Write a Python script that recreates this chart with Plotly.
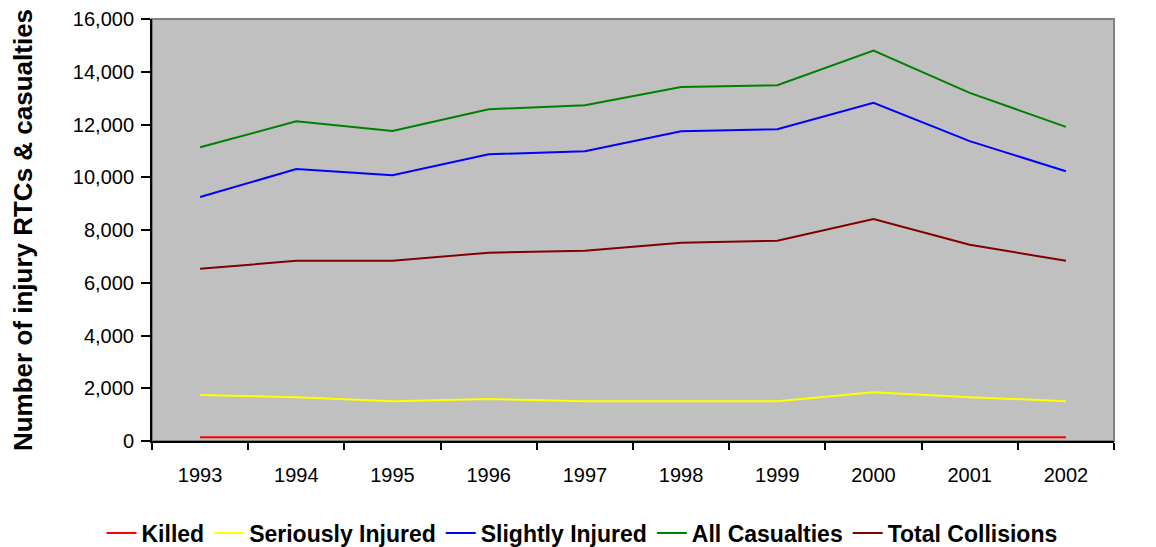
import plotly.graph_objects as go

years = ["1993", "1994", "1995", "1996", "1997", "1998", "1999", "2000", "2001", "2002"]

killed = [140, 140, 140, 140, 140, 140, 140, 140, 140, 140]
seriously_injured = [1740, 1660, 1510, 1590, 1510, 1510, 1510, 1850, 1660, 1510]
slightly_injured = [9250, 10310, 10080, 10870, 10990, 11740, 11820, 12820, 11370, 10230]
all_casualties = [11140, 12120, 11750, 12580, 12730, 13420, 13490, 14800, 13200, 11910]
total_collisions = [6530, 6830, 6830, 7140, 7210, 7520, 7590, 8420, 7440, 6830]

series = [
    ("Killed", killed, "#FF0000"),
    ("Seriously Injured", seriously_injured, "#FFFF00"),
    ("Slightly Injured", slightly_injured, "#0000FF"),
    ("All Casualties", all_casualties, "#008000"),
    ("Total Collisions", total_collisions, "#800000"),
]

fig = go.Figure()
for name, values, color in series:
    fig.add_trace(
        go.Scatter(
            x=years,
            y=values,
            name="<b>" + name + "</b>",
            mode="lines",
            line=dict(color=color, width=2),
        )
    )

# page body has an 8px margin, so the figure is a bit smaller than the window
fig.update_layout(
    width=1148,
    height=539,
    margin=dict(l=144, r=42, t=11, b=106),
    paper_bgcolor="white",
    plot_bgcolor="#C0C0C0",
    font=dict(family="Liberation Sans, Arial", size=19, color="black"),
    showlegend=True,
    legend=dict(
        orientation="h",
        xref="container",
        yref="container",
        x=0.5,
        xanchor="center",
        y=0.026,
        yanchor="middle",
        font=dict(size=23, family="Liberation Sans, Arial"),
        tracegroupgap=0,
        bgcolor="rgba(0,0,0,0)",
    ),
    xaxis=dict(
        type="category",
        range=[-0.5, 9.5],
        tickson="boundaries",
        ticks="outside",
        ticklen=7,
        tickwidth=2,
        tickcolor="black",
        showline=True,
        linecolor="black",
        linewidth=2,
        showgrid=False,
        zeroline=False,
        automargin=False,
        ticklabelstandoff=15,
        tickfont=dict(size=20),
    ),
    yaxis=dict(
        range=[0, 16000],
        dtick=2000,
        tickformat=",d",
        ticks="outside",
        ticklen=9,
        tickwidth=2,
        tickcolor="black",
        showline=True,
        linecolor="black",
        linewidth=2,
        showgrid=False,
        zeroline=False,
        automargin=False,
        ticklabelstandoff=3,
        tickfont=dict(size=20),
        title=dict(
            text="<b>Number of injury RTCs & casualties</b>",
            font=dict(size=26),
            standoff=36,
        ),
    ),
    shapes=[
        dict(
            type="rect",
            xref="paper",
            yref="paper",
            x0=0,
            x1=1,
            y0=0,
            y1=1,
            line=dict(color="#808080", width=2),
            layer="below",
        )
    ],
)

fig.write_html("out.html")
